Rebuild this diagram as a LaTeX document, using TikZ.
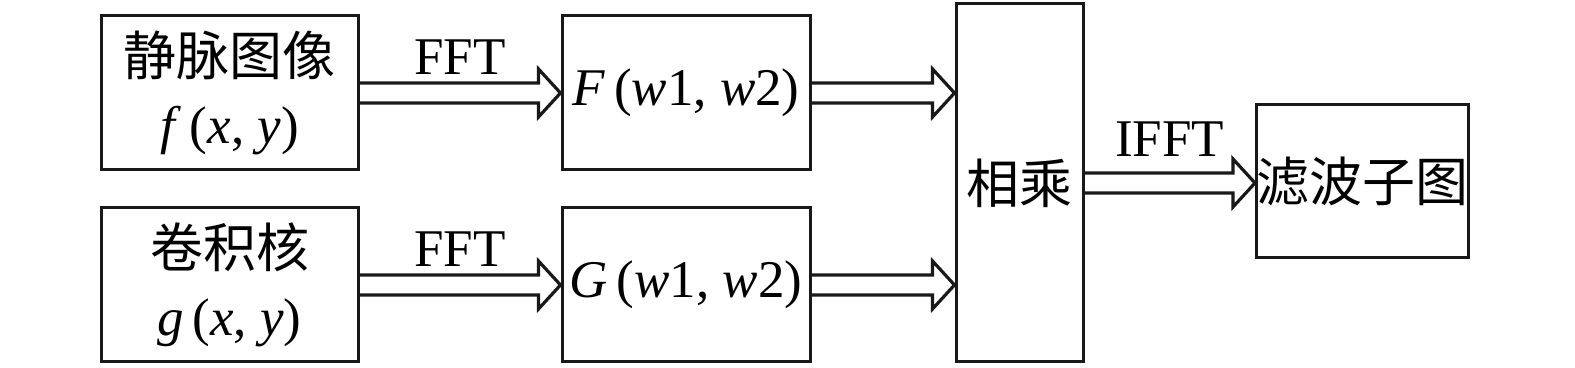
\documentclass[tikz,border=0pt]{standalone}
\usepackage{fontspec}
\setmainfont{Liberation Serif}
\newfontfamily\cjk{Noto Sans CJK SC}
\usetikzlibrary{calc}
\tikzset{
  x=0.5pt,y=0.5pt,
  blk/.style={draw=black!90,line width=1.5pt,inner sep=0pt,align=center,
    font=\fontsize{26.5pt}{34pt}\selectfont},
  harrow/.style={draw=black!90,line width=1.6pt,line join=miter},
  lbl/.style={inner sep=0pt,font=\fontsize{26.5pt}{30pt}\selectfont}
}
\newcommand\hollowarrow[2]{%
  \draw[harrow] ([yshift=5pt]#1) -- ([xshift=-11pt,yshift=5pt]#2) -- ([xshift=-11pt,yshift=12pt]#2)
    -- (#2) -- ([xshift=-11pt,yshift=-12pt]#2) -- ([xshift=-11pt,yshift=-5pt]#2) -- ([yshift=-5pt]#1);}
\begin{document}
\begin{tikzpicture}
\useasboundingbox (0,0) rectangle (1575,368);
\node[blk,minimum width=257*0.5pt,minimum height=154*0.5pt] (b1) at (229.5,275) {{\cjk 静脉图像}\\\textit{f}\,(\textit{x}, \textit{y})};
\node[blk,minimum width=257*0.5pt,minimum height=154*0.5pt] (b2) at (229.5,83) {{\cjk 卷积核}\\\textit{g}\,(\textit{x}, \textit{y})};
\node[blk,minimum width=248*0.5pt,minimum height=154*0.5pt] (b3) at (686,275) {\textit{F}\,(\textit{w}1, \textit{w}2)};
\node[blk,minimum width=248*0.5pt,minimum height=154*0.5pt] (b4) at (686,83) {\textit{G}\,(\textit{w}1, \textit{w}2)};
\node[blk,minimum width=127*0.5pt,minimum height=358*0.5pt] (b5) at (1019.5,185) {\cjk 相乘};
\node[blk,minimum width=209*0.5pt,minimum height=153*0.5pt] (b6) at (1362.5,186.5) {\cjk 滤波子图};
\hollowarrow{b1.east}{b3.west}
\hollowarrow{b2.east}{b4.west}
\hollowarrow{b3.east}{b3.east -| b5.west}
\hollowarrow{b4.east}{b4.east -| b5.west}
\hollowarrow{b5.east}{b5.east -| b6.west}
\node[lbl] (l1) at ([yshift=18pt]$(b1.east)!0.5!(b3.west)$) {FFT};
\node[lbl] (l2) at ([yshift=18pt]$(b2.east)!0.5!(b4.west)$) {FFT};
\node[lbl] (l3) at ([yshift=22pt]$(b5.east)!0.5!(b5.east -| b6.west)$) {IFFT};
\end{tikzpicture}
\end{document}
